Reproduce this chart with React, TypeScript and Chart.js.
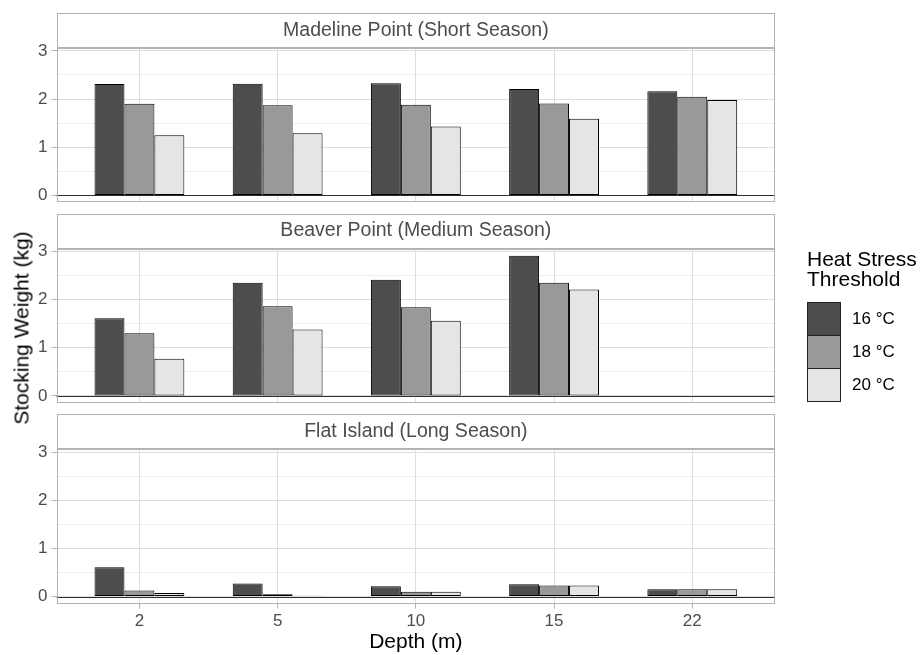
import React, { useEffect, useRef } from 'react';
import { Chart, registerables } from 'chart.js';

Chart.register(...registerables);

// ---------- data ----------
const depths = ['2', '5', '10', '15', '22'];
const thresholds = ['16 °C', '18 °C', '20 °C'];
const siteTitles = [
  'Madeline Point (Short Season)',
  'Beaver Point (Medium Season)',
  'Flat Island (Long Season)',
];

const madeline16 = [2.31, 2.32, 2.33, 2.21, 2.16];
const madeline18 = [1.90, 1.87, 1.88, 1.91, 2.05];
const madeline20 = [1.25, 1.29, 1.43, 1.59, 1.98];

const beaver16 = [1.61, 2.35, 2.41, 2.91, null];
const beaver18 = [1.30, 1.86, 1.84, 2.35, null];
const beaver20 = [0.77, 1.38, 1.56, 2.21, null];

const flat16 = [0.61, 0.27, 0.215, 0.256, 0.15];
const flat18 = [0.125, 0.05, 0.10, 0.23, 0.15];
const flat20 = [0.076, 0.02, 0.10, 0.23, 0.15];

const yTicks = [0, 0.5, 1, 1.5, 2, 2.5, 3];
const Y_MIN = -0.1455;
const Y_MAX = 3.0555;

// ---------- styles ----------
const FONT = "'Liberation Sans', Arial, Helvetica, sans-serif";
const FILLS = ['#4D4D4D', '#999999', '#E5E5E5'];
const GRID = '#DEDEDE';
const GREY70 = '#B3B3B3';
const TEXT_GREY = '#4D4D4D';

const seriesBySite = [
  [madeline16, madeline18, madeline20],
  [beaver16, beaver18, beaver20],
  [flat16, flat18, flat20],
];

// canvas layout (per panel)
const CANVAS_TOP = [0, 200, 400];
const CANVAS_H = [210, 210, 255];
const PAD_TOP = [13, 13.5, 14.2];
const PAD_BOTTOM = [7.6, 7.1, 0];
const STRIP_FONT = 19.5;
const STRIP_PAD = 5.9;
const STRIP_H = STRIP_FONT * 1.2 + STRIP_PAD * 2;

const panelPlugin = {
  id: 'facetPanel',
  beforeDraw(chart: any) {
    const { ctx, chartArea } = chart;
    const l = Math.round(chartArea.left);
    const r = Math.round(chartArea.right);
    const top = Math.round(chartArea.top - STRIP_H);
    const bot = Math.round(chartArea.top);
    ctx.save();
    ctx.fillStyle = '#FFFFFF';
    ctx.fillRect(l, top, r - l, bot - top);
    ctx.strokeStyle = GREY70;
    ctx.lineWidth = 1;
    ctx.strokeRect(l + 0.5, top + 0.5, r - l - 1, bot - top - 1);
    ctx.restore();
  },
  afterDatasetsDraw(chart: any) {
    const { ctx, chartArea, scales } = chart;
    const y0 = Math.round(scales.y.getPixelForValue(0)) + 0.5;
    ctx.save();
    ctx.strokeStyle = '#2E2E2E';
    ctx.lineWidth = 1;
    ctx.beginPath();
    ctx.moveTo(chartArea.left, y0);
    ctx.lineTo(chartArea.right, y0);
    ctx.stroke();
    ctx.restore();
  },
  afterDraw(chart: any) {
    const { ctx, chartArea } = chart;
    const l = Math.round(chartArea.left);
    const r = Math.round(chartArea.right);
    const t = Math.round(chartArea.top);
    const b = Math.round(chartArea.bottom);
    ctx.save();
    ctx.strokeStyle = GREY70;
    ctx.lineWidth = 1;
    ctx.strokeRect(l + 0.5, t + 0.5, r - l - 1, b - t - 1);
    ctx.restore();
  },
};

function buildConfig(i: number): any {
  const isBottom = i === 2;
  const datasets = seriesBySite[i].map((vals, k) => ({
    label: thresholds[k],
    data: vals.map((v, j) => ({ x: j, y: v })),
    backgroundColor: FILLS[k],
    borderColor: '#000000',
    borderWidth: 1,
    borderSkipped: false,
    categoryPercentage: 0.65,
    barPercentage: 1.0,
  }));
  return {
    type: 'bar',
    data: { datasets },
    plugins: [panelPlugin],
    options: {
      responsive: false,
      devicePixelRatio: 1,
      animation: false,
      events: [],
      layout: {
        padding: { left: 0, right: 921 - 775.2, top: PAD_TOP[i], bottom: PAD_BOTTOM[i] },
      },
      plugins: {
        legend: { display: false },
        tooltip: { enabled: false },
        title: {
          display: true,
          text: siteTitles[i],
          fullSize: false,
          color: TEXT_GREY,
          font: { family: FONT, size: STRIP_FONT, weight: 'normal', lineHeight: 1.2 },
          padding: { top: STRIP_PAD, bottom: STRIP_PAD },
        },
      },
      scales: {
        x: {
          type: 'linear',
          min: -0.6,
          max: 4.6,
          offset: false,
          afterBuildTicks: (scale: any) => {
            scale.ticks = depths.map((_, j) => ({ value: j }));
          },
          afterFit: (scale: any) => {
            scale.height = isBottom ? 51.4 : 0;
            scale.paddingLeft = 0;
            scale.paddingRight = 0;
            scale.paddingTop = 0;
            scale.paddingBottom = 0;
          },
          border: { display: false },
          grid: {
            color: GRID,
            lineWidth: 1,
            drawTicks: isBottom,
            tickLength: 5,
            tickColor: GREY70,
            offset: false,
          },
          ticks: {
            display: isBottom,
            color: TEXT_GREY,
            padding: 3,
            maxRotation: 0,
            autoSkip: false,
            font: { family: FONT, size: 17 },
            callback: (v: any) => depths[v] ?? '',
          },
          title: {
            display: isBottom,
            text: 'Depth (m)',
            color: '#000000',
            font: { family: FONT, size: 21, lineHeight: 1.2 },
            padding: { top: 0, bottom: 0.4 },
          },
        },
        y: {
          type: 'linear',
          min: Y_MIN,
          max: Y_MAX,
          afterBuildTicks: (scale: any) => {
            scale.ticks = yTicks.map((v) => ({ value: v }));
          },
          afterFit: (scale: any) => {
            scale.width = 56.5;
            scale.paddingTop = 0;
            scale.paddingBottom = 0;
            scale.paddingLeft = 0;
            scale.paddingRight = 0;
          },
          border: { display: false },
          grid: {
            color: GRID,
            lineWidth: (ctx: any) => (Number.isInteger(ctx.tick?.value) ? 1 : 0.5),
            drawTicks: true,
            tickLength: 5,
            tickColor: (ctx: any) =>
              Number.isInteger(ctx.tick?.value) ? GREY70 : 'rgba(0,0,0,0)',
          },
          ticks: {
            color: TEXT_GREY,
            padding: 4,
            autoSkip: false,
            font: { family: FONT, size: 17 },
            callback: (v: any) => (Number.isInteger(v) ? String(v) : ''),
          },
        },
      },
    },
  };
}

function Panel({ index }: { index: number }) {
  const ref = useRef<HTMLCanvasElement | null>(null);
  useEffect(() => {
    if (!ref.current) return;
    const chart = new Chart(ref.current, buildConfig(index));
    return () => chart.destroy();
  }, [index]);
  return (
    <canvas
      ref={ref}
      width={921}
      height={CANVAS_H[index]}
      style={{
        position: 'absolute',
        left: 0,
        top: CANVAS_TOP[index],
        width: 921,
        height: CANVAS_H[index],
      }}
    />
  );
}

function Legend() {
  const keyTop = 302;
  const keyStep = 33;
  return (
    <>
      <div
        style={{
          position: 'absolute',
          left: 807,
          top: 249.4,
          fontFamily: FONT,
          fontSize: 21,
          lineHeight: '20px',
          color: '#000',
          whiteSpace: 'pre',
        }}
      >
        {'Heat Stress\nThreshold'}
      </div>
      {thresholds.map((t, k) => (
        <React.Fragment key={t}>
          <div
            style={{
              position: 'absolute',
              left: 807,
              top: keyTop + k * keyStep,
              width: 34,
              height: 34,
              boxSizing: 'border-box',
              border: '1px solid #222',
              background: FILLS[k],
            }}
          />
          <div
            style={{
              position: 'absolute',
              left: 852,
              top: keyTop + k * keyStep + 17 - 10,
              height: 20,
              lineHeight: '20px',
              fontFamily: FONT,
              fontSize: 17,
              color: '#000',
              whiteSpace: 'nowrap',
            }}
          >
            {t}
          </div>
        </React.Fragment>
      ))}
    </>
  );
}

export default function App() {
  return (
    <div
      style={{
        position: 'absolute',
        left: 0,
        top: 0,
        width: 921,
        height: 655,
        background: '#FFFFFF',
        overflow: 'hidden',
      }}
    >
      <Panel index={0} />
      <Panel index={1} />
      <Panel index={2} />
      <div
        style={{
          position: 'absolute',
          left: 20.5,
          top: 328,
          transform: 'translate(-50%, -50%) rotate(-90deg)',
          fontFamily: FONT,
          fontSize: 21,
          lineHeight: '21px',
          color: '#000',
          whiteSpace: 'nowrap',
        }}
      >
        Stocking Weight (kg)
      </div>
      <Legend />
    </div>
  );
}
